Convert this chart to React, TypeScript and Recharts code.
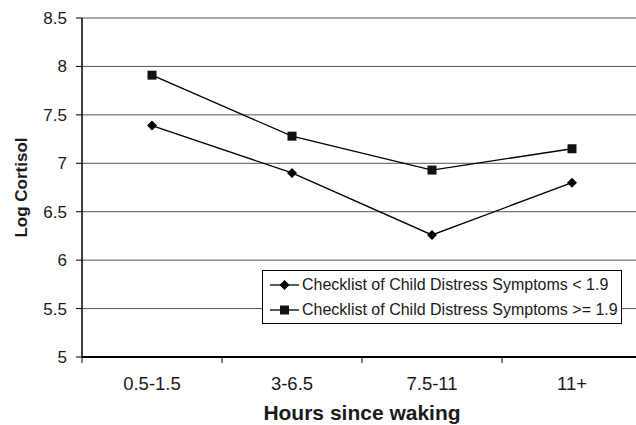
import { LineChart, Line, XAxis, YAxis, CartesianGrid, Legend } from 'recharts'

const hours = ['0.5-1.5', '3-6.5', '7.5-11', '11+']
const lowDistress = [7.39, 6.9, 6.26, 6.8]
const highDistress = [7.91, 7.28, 6.93, 7.15]
const yTicks = [5, 5.5, 6, 6.5, 7, 7.5, 8, 8.5]
const seriesNames = [
    'Checklist of Child Distress Symptoms < 1.9',
    'Checklist of Child Distress Symptoms >= 1.9'
]

const data = hours.map((h, i) => ({
    hours: h,
    low: lowDistress[i],
    high: highDistress[i]
}))

const FONT = '"Liberation Sans", Arial, sans-serif'
const HALF_BAND = 70

function Diamond({ cx, cy }: any) {
    if (cx == null || cy == null) return null
    const s = 5
    return (
        <polygon
            points={`${cx},${cy - s} ${cx + s},${cy} ${cx},${cy + s} ${cx - s},${cy}`}
            fill="#000"
        />
    )
}

function Square({ cx, cy }: any) {
    if (cx == null || cy == null) return null
    return <rect x={cx - 4.5} y={cy - 4.5} width={9} height={9} fill="#111" />
}

function HourTick({ x, y, payload }: any) {
    return (
        <g>
            <line x1={x - HALF_BAND} y1={357} x2={x - HALF_BAND} y2={363} stroke="#000" />
            <text
                x={x}
                y={y}
                dy="0.71em"
                textAnchor="middle"
                fontSize={18.5}
                fontFamily={FONT}
                fill="#1a1a1a"
            >
                {payload.value}
            </text>
        </g>
    )
}

function LegendBox() {
    const markers = [Diamond, Square]
    return (
        <div
            style={{
                width: 358,
                height: 51,
                border: '1px solid #000',
                background: '#fff',
                fontFamily: FONT,
                fontSize: 16,
                color: '#1a1a1a',
                paddingTop: 1
            }}
        >
            {seriesNames.map((name, i) => {
                const M = markers[i]
                return (
                    <div
                        key={name}
                        style={{ display: 'flex', alignItems: 'center', height: 25.5, paddingLeft: 7 }}
                    >
                        <svg width={29} height={12}>
                            <line x1={0} y1={6} x2={29} y2={6} stroke="#000" strokeWidth={1.3} />
                            <M cx={14.5} cy={6} />
                        </svg>
                        <span style={{ marginLeft: 3, whiteSpace: 'nowrap' }}>{name}</span>
                    </div>
                )
            })}
        </div>
    )
}

export default function App() {
    return (
        <div
            style={{
                position: 'absolute',
                left: 0,
                top: 0,
                width: 636,
                height: 425,
                overflow: 'hidden',
                background: '#fff'
            }}
        >
            <LineChart
                width={650}
                height={425}
                data={data}
                margin={{ top: 18, right: 8, left: 0, bottom: 0 }}
            >
                <CartesianGrid vertical={false} stroke="#555" strokeWidth={1} />
                <XAxis
                    dataKey="hours"
                    height={68}
                    padding={{ left: HALF_BAND, right: HALF_BAND }}
                    tickLine={false}
                    axisLine={{ stroke: '#000', strokeWidth: 2 }}
                    tick={<HourTick />}
                    tickMargin={14}
                    tickSize={6}
                    interval={0}
                    label={{
                        value: 'Hours since waking',
                        position: 'insideBottom',
                        offset: 5,
                        style: { fontFamily: FONT, fontSize: 21, fontWeight: 'bold', fill: '#1a1a1a' }
                    }}
                />
                <YAxis
                    width={82}
                    domain={[5, 8.5]}
                    ticks={yTicks}
                    interval={0}
                    tickSize={6}
                    tickMargin={9}
                    tickLine={{ stroke: '#000' }}
                    axisLine={{ stroke: '#000', strokeWidth: 1.5 }}
                    tick={{ fontFamily: FONT, fontSize: 17, fill: '#1a1a1a' }}
                    label={{
                        value: 'Log Cortisol',
                        angle: -90,
                        position: 'insideLeft',
                        offset: 21,
                        style: {
                            fontFamily: FONT,
                            fontSize: 17,
                            fontWeight: 'bold',
                            fill: '#1a1a1a',
                            textAnchor: 'middle'
                        }
                    }}
                />
                <Legend
                    layout="horizontal"
                    verticalAlign="middle"
                    align="center"
                    content={<LegendBox />}
                    wrapperStyle={{ left: 262, top: 270, width: 'auto', bottom: 'auto', right: 'auto' }}
                />
                <Line
                    dataKey="low"
                    name={seriesNames[0]}
                    stroke="#000"
                    strokeWidth={1.3}
                    dot={<Diamond />}
                    isAnimationActive={false}
                />
                <Line
                    dataKey="high"
                    name={seriesNames[1]}
                    stroke="#000"
                    strokeWidth={1.3}
                    dot={<Square />}
                    isAnimationActive={false}
                />
            </LineChart>
        </div>
    )
}
